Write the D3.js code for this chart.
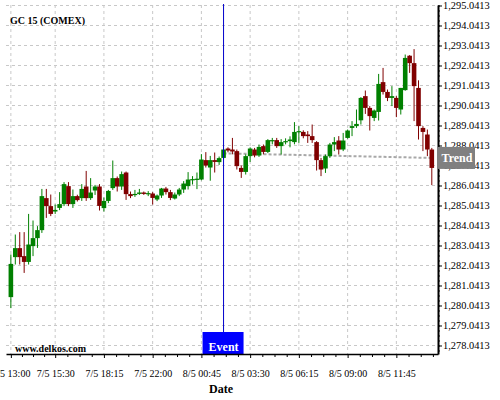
<!DOCTYPE html>
<html>
<head>
<meta charset="utf-8">
<script src="https://cdn.jsdelivr.net/npm/d3@7"></script>
<style>
	body { margin: 0; background: #fff; }
	svg { display: block; font-family: "Liberation Serif", "Times New Roman", serif; }
</style>
</head>
<body>
<script>
//candle chart for GC 15 (COMEX), 15 minute bars
(function(){

//candle values, one entry per bar (index = bar number on the x axis)
var opens  = [1280.46,1282.46,1282.91,1282.51,1282.22,1283.01,1283.41,1283.81,1285.41,1285.01,
	1284.74,1284.92,1285.11,1286.01,1285.11,1285.51,1285.41,1285.99,1285.41,1285.79,
	1285.99,1284.91,1285.27,1285.91,1286.41,1285.99,1286.69,1285.61,1285.57,1285.62,
	1285.69,1285.62,1285.64,1285.34,1285.54,1285.89,1285.71,1285.39,1285.59,1285.84,
	1286.01,1286.30,1286.32,1286.34,1287.31,1286.94,1287.31,1287.21,1287.42,1287.89,
	1287.84,1287.76,1286.92,1286.72,1287.51,1287.84,1287.54,1288.01,1287.72,1288.26,
	1288.31,1288.01,1288.21,1288.26,1288.21,1288.72,1288.72,1288.59,1288.51,1288.21,
	1287.31,1286.89,1287.51,1288.09,1288.29,1287.84,1288.42,1288.92,1289.01,1289.30,
	1290.51,1289.92,1289.42,1289.72,1291.21,1290.72,1290.42,1290.42,1289.84,1290.81,
	1292.53,1292.16,1290.92,1288.92,1288.59,1287.84];
var highs  = [1282.59,1283.59,1283.71,1283.71,1284.62,1284.29,1284.01,1285.87,1285.87,1285.59,
	1285.09,1285.71,1286.21,1286.21,1285.84,1285.58,1286.11,1286.77,1286.41,1286.07,
	1286.11,1285.44,1285.82,1287.29,1286.49,1286.74,1286.74,1285.74,1285.82,1285.87,
	1285.74,1285.76,1285.71,1285.59,1285.92,1285.97,1285.82,1285.69,1285.92,1286.26,
	1286.71,1286.51,1286.69,1287.61,1287.71,1287.52,1287.69,1287.49,1287.88,1287.95,
	1288.42,1287.84,1287.04,1287.60,1287.95,1287.92,1288.09,1288.09,1288.36,1288.42,
	1288.42,1288.36,1288.40,1288.50,1289.21,1289.01,1288.80,1288.76,1289.09,1288.26,
	1287.42,1287.59,1288.17,1288.46,1288.51,1288.67,1288.84,1289.26,1289.84,1290.46,
	1290.79,1290.01,1289.84,1291.62,1291.92,1290.84,1291.01,1290.51,1290.92,1292.59,
	1292.56,1292.86,1291.30,1289.01,1288.84,1287.92];
var lows   = [1279.91,1282.09,1282.09,1281.67,1282.09,1282.51,1282.92,1283.67,1284.42,1284.51,
	1284.62,1284.81,1285.01,1285.01,1284.92,1285.24,1285.27,1285.27,1285.32,1285.57,
	1284.79,1284.74,1285.16,1285.82,1285.74,1285.82,1285.32,1285.41,1285.47,1285.57,
	1285.57,1285.51,1285.09,1285.26,1285.42,1285.59,1285.31,1285.34,1285.51,1285.67,
	1285.84,1286.09,1285.86,1286.30,1286.94,1286.28,1286.69,1287.07,1287.35,1287.70,
	1287.60,1286.84,1286.42,1286.59,1287.22,1287.45,1287.47,1287.60,1287.66,1288.10,
	1287.92,1287.59,1288.10,1287.95,1288.10,1288.17,1288.40,1288.17,1288.17,1286.79,
	1286.51,1286.67,1287.42,1287.76,1287.59,1287.76,1288.38,1288.51,1288.92,1289.09,
	1289.62,1288.79,1289.26,1289.29,1290.59,1290.26,1290.01,1289.46,1289.59,1290.78,
	1291.67,1289.26,1288.34,1287.76,1287.51,1286.06];
var closes = [1282.12,1282.91,1282.46,1282.22,1283.09,1283.41,1283.81,1285.51,1285.01,1284.62,
	1284.82,1285.11,1286.11,1285.11,1285.51,1285.31,1285.87,1285.41,1285.69,1285.99,
	1285.02,1285.27,1285.77,1286.41,1285.99,1286.61,1285.61,1285.51,1285.62,1285.69,
	1285.62,1285.66,1285.42,1285.54,1285.89,1285.71,1285.42,1285.59,1285.84,1286.14,
	1286.34,1286.36,1286.38,1287.34,1287.04,1287.31,1287.22,1287.41,1287.84,1287.79,
	1287.74,1287.01,1286.72,1287.51,1287.89,1287.54,1287.97,1287.72,1288.31,1288.31,
	1288.01,1288.21,1288.26,1288.34,1288.72,1288.76,1288.51,1288.51,1288.31,1287.31,
	1286.84,1287.51,1288.09,1288.21,1287.84,1288.29,1288.79,1289.01,1289.12,1290.42,
	1289.92,1289.51,1289.79,1291.12,1290.72,1290.42,1290.51,1289.92,1290.92,1292.42,
	1292.16,1291.01,1289.01,1288.72,1287.84,1286.92];

//x axis labels and the bar they sit on
var tickIdx = [0, 10, 21, 32, 43, 54, 65, 76, 87];
var tickLabels = ["7/5 13:00", "7/5 15:30", "7/5 18:15", "7/5 22:00", "8/5 00:45",
	"8/5 03:30", "8/5 06:15", "8/5 09:00", "8/5 11:45"];

//price ticks on the right axis
var priceTicks = [1278.0413,1279.0413,1280.0413,1281.0413,1282.0413,1283.0413,1284.0413,1285.0413,1286.0413,
	1287.0413,1288.0413,1289.0413,1290.0413,1291.0413,1292.0413,1293.0413,1294.0413,1295.0413];

//event bar and trend line (bar index, price)
var eventIdx = 48;
var trendIdx = [48, 95];
var trendPrice = [1287.65, 1287.42];

var w = 500, h = 400;
var left = 6, right = 438, top = 5, bottom = 354;
var upColor = "#008000", downColor = "#800000";

var svg = d3.select("body").append("svg")
	.attr("width", w)
	.attr("height", h);

//index scale - bars are evenly spaced, gaps in trading are not shown
var x = d3.scaleLinear()
	.domain([-1.1, 96.4])
	.range([left, right]);

var y = d3.scaleLinear()
	.domain([1277.616, 1295.066])
	.range([bottom, top]);

//GRID
svg.append("g").attr("class", "hgrid")
	.selectAll("line")
	.data(priceTicks)
	.enter()
	.append("line")
	.attr("x1", left).attr("x2", right)
	.attr("y1", function(d){ return y(d); })
	.attr("y2", function(d){ return y(d); })
	.attr("stroke", "#c8c8c8")
	.attr("stroke-dasharray", "3,3");

svg.append("g").attr("class", "vgrid")
	.selectAll("line")
	.data(tickIdx)
	.enter()
	.append("line")
	.attr("x1", function(d){ return x(d); })
	.attr("x2", function(d){ return x(d); })
	.attr("y1", top).attr("y2", bottom)
	.attr("stroke", "#c8c8c8")
	.attr("stroke-dasharray", "3,3");

//TREND (dotted, drawn under the candles)
svg.append("line")
	.attr("x1", x(trendIdx[0])).attr("y1", y(trendPrice[0]))
	.attr("x2", x(trendIdx[1])).attr("y2", y(trendPrice[1]))
	.attr("stroke", "#a8a8a8")
	.attr("stroke-width", 2)
	.attr("stroke-dasharray", "3,2");

//CANDLES
var bars = d3.range(opens.length);
var bodyW = 4.6;

var candles = svg.append("g").attr("class", "candles")
	.selectAll("g")
	.data(bars)
	.enter()
	.append("g");

candles.append("line") //wick
	.attr("x1", function(i){ return x(i); })
	.attr("x2", function(i){ return x(i); })
	.attr("y1", function(i){ return y(highs[i]); })
	.attr("y2", function(i){ return y(lows[i]); })
	.attr("stroke", function(i){ return closes[i] >= opens[i] ? upColor : downColor; })
	.attr("stroke-width", 1);

candles.append("rect") //body
	.attr("x", function(i){ return x(i) - bodyW/2; })
	.attr("width", bodyW)
	.attr("y", function(i){ return y(Math.max(opens[i], closes[i])); })
	.attr("height", function(i){
		return Math.max(1.2, Math.abs(y(opens[i]) - y(closes[i])));
	})
	.attr("fill", function(i){ return closes[i] >= opens[i] ? upColor : downColor; });

//EVENT marker
svg.append("line")
	.attr("x1", x(eventIdx)).attr("x2", x(eventIdx))
	.attr("y1", top - 1).attr("y2", bottom - 22)
	.attr("stroke", "#0000cc")
	.attr("stroke-width", 1);

svg.append("rect")
	.attr("x", x(eventIdx) - 21).attr("y", bottom - 22)
	.attr("width", 41).attr("height", 22)
	.attr("fill", "#0000ff");

svg.append("text")
	.attr("x", x(eventIdx)).attr("y", bottom - 3)
	.attr("text-anchor", "middle")
	.attr("fill", "#fff")
	.attr("font-weight", "bold")
	.attr("font-size", 12)
	.text("Event");

//AXES
//bottom axis
var xMinor = [];
tickIdx.forEach(function(t, k){
	var next = k < tickIdx.length - 1 ? tickIdx[k+1] : t + 11;
	for (var j = 1; j < 4; j++) xMinor.push(t + j*(next - t)/4);
});

var xAxisG = d3.axisBottom(x)
	.tickValues(tickIdx)
	.tickFormat(function(d, i){ return tickLabels[i]; })
	.tickSize(4)
	.tickSizeOuter(0);

var xAxis = svg.append("g")
	.attr("class", "xAxis")
	.attr("transform", "translate(0," + bottom + ")")
	.call(xAxisG);

svg.append("g")
	.attr("transform", "translate(0," + bottom + ")")
	.call(d3.axisBottom(x).tickValues(xMinor).tickSize(3).tickFormat("").tickSizeOuter(0))
	.call(function(g){ g.select(".domain").remove(); });

xAxis.select(".domain").attr("stroke-width", 1.5);
xAxis.selectAll("text")
	.attr("font-family", "Liberation Serif")
	.attr("font-size", 10)
	.attr("fill", "#000")
	.attr("dy", "1.55em");

//right axis
var yMinor = d3.range(1277.7913, 1295.05, 0.25);

var yAxisG = d3.axisRight(y)
	.tickValues(priceTicks)
	.tickFormat(d3.format(",.4f"))
	.tickSize(4)
	.tickSizeOuter(0);

var yAxis = svg.append("g")
	.attr("class", "yAxis")
	.attr("transform", "translate(" + right + ",0)")
	.call(yAxisG);

svg.append("g")
	.attr("transform", "translate(" + right + ",0)")
	.call(d3.axisRight(y).tickValues(yMinor).tickSize(2).tickFormat("").tickSizeOuter(0))
	.call(function(g){ g.select(".domain").remove(); });

yAxis.select(".domain").attr("stroke-width", 2);
yAxis.selectAll("text")
	.attr("font-family", "Liberation Serif")
	.attr("font-size", 10.4)
	.attr("fill", "#000")
	.attr("x", 5);

//trend label sits on the right axis at the trend end
svg.append("rect")
	.attr("x", right).attr("y", y(trendPrice[1]) - 11)
	.attr("width", 37).attr("height", 22)
	.attr("fill", "#808080");

svg.append("text")
	.attr("x", right + 19).attr("y", y(trendPrice[1]) + 4)
	.attr("text-anchor", "middle")
	.attr("fill", "#fff")
	.attr("font-weight", "bold")
	.attr("font-size", 12)
	.text("Trend");

//TEXTS
svg.append("text")
	.attr("x", 10).attr("y", 24)
	.attr("font-weight", "bold")
	.attr("font-size", 10)
	.text("GC 15 (COMEX)");

svg.append("text")
	.attr("x", 15).attr("y", 352)
	.attr("font-weight", "bold")
	.attr("font-size", 10)
	.text("www.delkos.com");

svg.append("text")
	.attr("x", 221).attr("y", 393)
	.attr("text-anchor", "middle")
	.attr("font-weight", "bold")
	.attr("font-size", 12)
	.text("Date");

})();
</script>
</body>
</html>
